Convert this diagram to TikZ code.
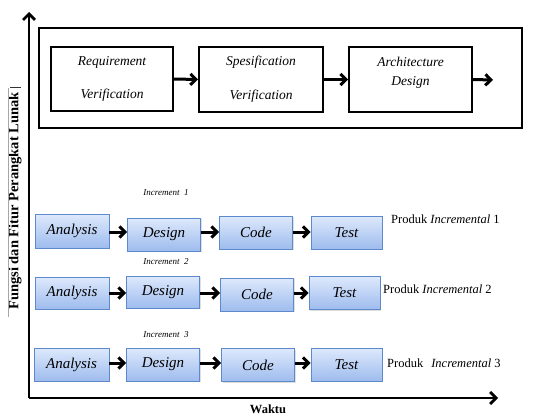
\documentclass[tikz,border=0pt]{standalone}
\usepackage{fontspec}
\setmainfont{Liberation Serif}
\usetikzlibrary{arrows.meta,shadows}
\definecolor{boxtop}{RGB}{222,233,252}
\definecolor{boxbot}{RGB}{158,188,238}
\definecolor{boxline}{RGB}{92,138,204}
\tikzset{
  frame/.style={draw=black,line width=2pt,minimum width=483pt,minimum height=100pt,inner sep=0pt},
  topbox/.style={draw=black,line width=2pt,inner sep=0pt},
  toptxt/.style={font=\itshape\fontsize{13.5}{15}\selectfont,inner sep=0pt},
  cell/.style={draw=boxline,line width=0.9pt,top color=boxtop,bottom color=boxbot,
    minimum width=73pt,minimum height=33pt,inner sep=0pt,
    font=\itshape\fontsize{15}{17}\selectfont,
    drop shadow={shadow xshift=1.2pt,shadow yshift=-1.2pt,opacity=0.25}},
  flow/.style={line width=3pt,-{Straight Barb[length=5.5pt,width=11pt]}},
  axis/.style={line width=2.8pt,-{Straight Barb[length=6pt,width=12pt]}},
  inclab/.style={font=\itshape\fontsize{9}{10}\selectfont,inner sep=0pt},
  prodlab/.style={font=\fontsize{12.5}{14}\selectfont,inner sep=0pt,anchor=west},
}
\begin{document}
\begin{tikzpicture}[x=1pt,y=-1pt]
\useasboundingbox (0,0) rectangle (533,415);
% axes
\coordinate (O) at (29,398);
\coordinate (ytip) at (29,12);
\coordinate (xtip) at (498,398);
\draw[axis] (O) -- (ytip);
\draw[axis] (O) -- (xtip);
\node[font=\bfseries\fontsize{12.5}{14}\selectfont,inner sep=0pt] (xlab) at (268,409) {Waktu};
\node[rotate=90,font=\bfseries\fontsize{14.5}{16}\selectfont,inner sep=0pt] (ylab) at (15,201) {Fungsi dan Fitur Perangkat Lunak};
\draw[gray!70,line width=0.6pt] (8,88) -- (8,317);
\draw[black!80,line width=0.8pt] (10,87) -- (21,87);
% top frame
\node[frame] (fr) at (280.5,78) {};
\node[topbox,minimum width=122pt,minimum height=64pt] (b1) at (112,79) {};
\node[topbox,minimum width=124pt,minimum height=65pt] (b2) at (261,79.5) {};
\node[topbox,minimum width=123pt,minimum height=65pt] (b3) at (410.5,79.5) {};
\node[toptxt] (t1a) at (112,62) {Requirement};
\node[toptxt] (t1b) at (112,95) {Verification};
\node[toptxt] (t2a) at (261,62) {Spesification};
\node[toptxt] (t2b) at (261,96) {Verification};
\node[toptxt] (t3a) at (410.5,62) {Architecture};
\node[toptxt] (t3b) at (410.5,82) {Design};
\coordinate (bend) at (493,80);
\draw[flow] (b1.east) -- (b2.west);
\draw[flow] (b2.east) -- (b3.west);
\draw[flow] (b3.east) -- (bend);
% row 1
\node[cell,minimum width=74pt,minimum height=34pt] (a1) at (72,231) {Analysis};
\node[cell] (d1) at (164,234.5) {Design};
\node[cell] (c1) at (256,232.5) {Code};
\node[cell,minimum width=71pt] (s1) at (346.5,232.5) {Test};
% row 2
\node[cell,minimum width=74pt,minimum height=32pt] (a2) at (72,293) {Analysis};
\node[cell,minimum height=32pt] (d2) at (163,292) {Design};
\node[cell] (c2) at (257,294.5) {Code};
\node[cell,minimum width=71pt] (s2) at (344.5,293) {Test};
% row 3
\node[cell,minimum width=75pt] (a3) at (71.5,364.5) {Analysis};
\node[cell] (d3) at (163,364.5) {Design};
\node[cell] (c3) at (258,365) {Code};
\node[cell,minimum width=71pt] (s3) at (346.5,364.5) {Test};
% row arrows
\foreach \r/\yy in {1/232,2/293,3/363}{
  \draw[flow] (a\r.east |- 0,\yy) -- (d\r.west |- 0,\yy);
  \draw[flow] (d\r.east |- 0,\yy) -- (c\r.west |- 0,\yy);
  \draw[flow] (c\r.east |- 0,\yy) -- (s\r.west |- 0,\yy);
}
% labels
\node[inclab] (i1) at (166,193) {Increment\ \ 1};
\node[inclab] (i2) at (166,262) {Increment\ \ 2};
\node[inclab] (i3) at (166,335) {Increment\ \ 3};
\node[prodlab] (p1) at (391,219) {Produk \textit{Incremental} 1};
\node[prodlab] (p2) at (383,289) {Produk \textit{Incremental} 2};
\node[prodlab] (p3) at (387,363) {Produk\hspace{8pt}\textit{Incremental} 3};
\end{tikzpicture}
\end{document}
